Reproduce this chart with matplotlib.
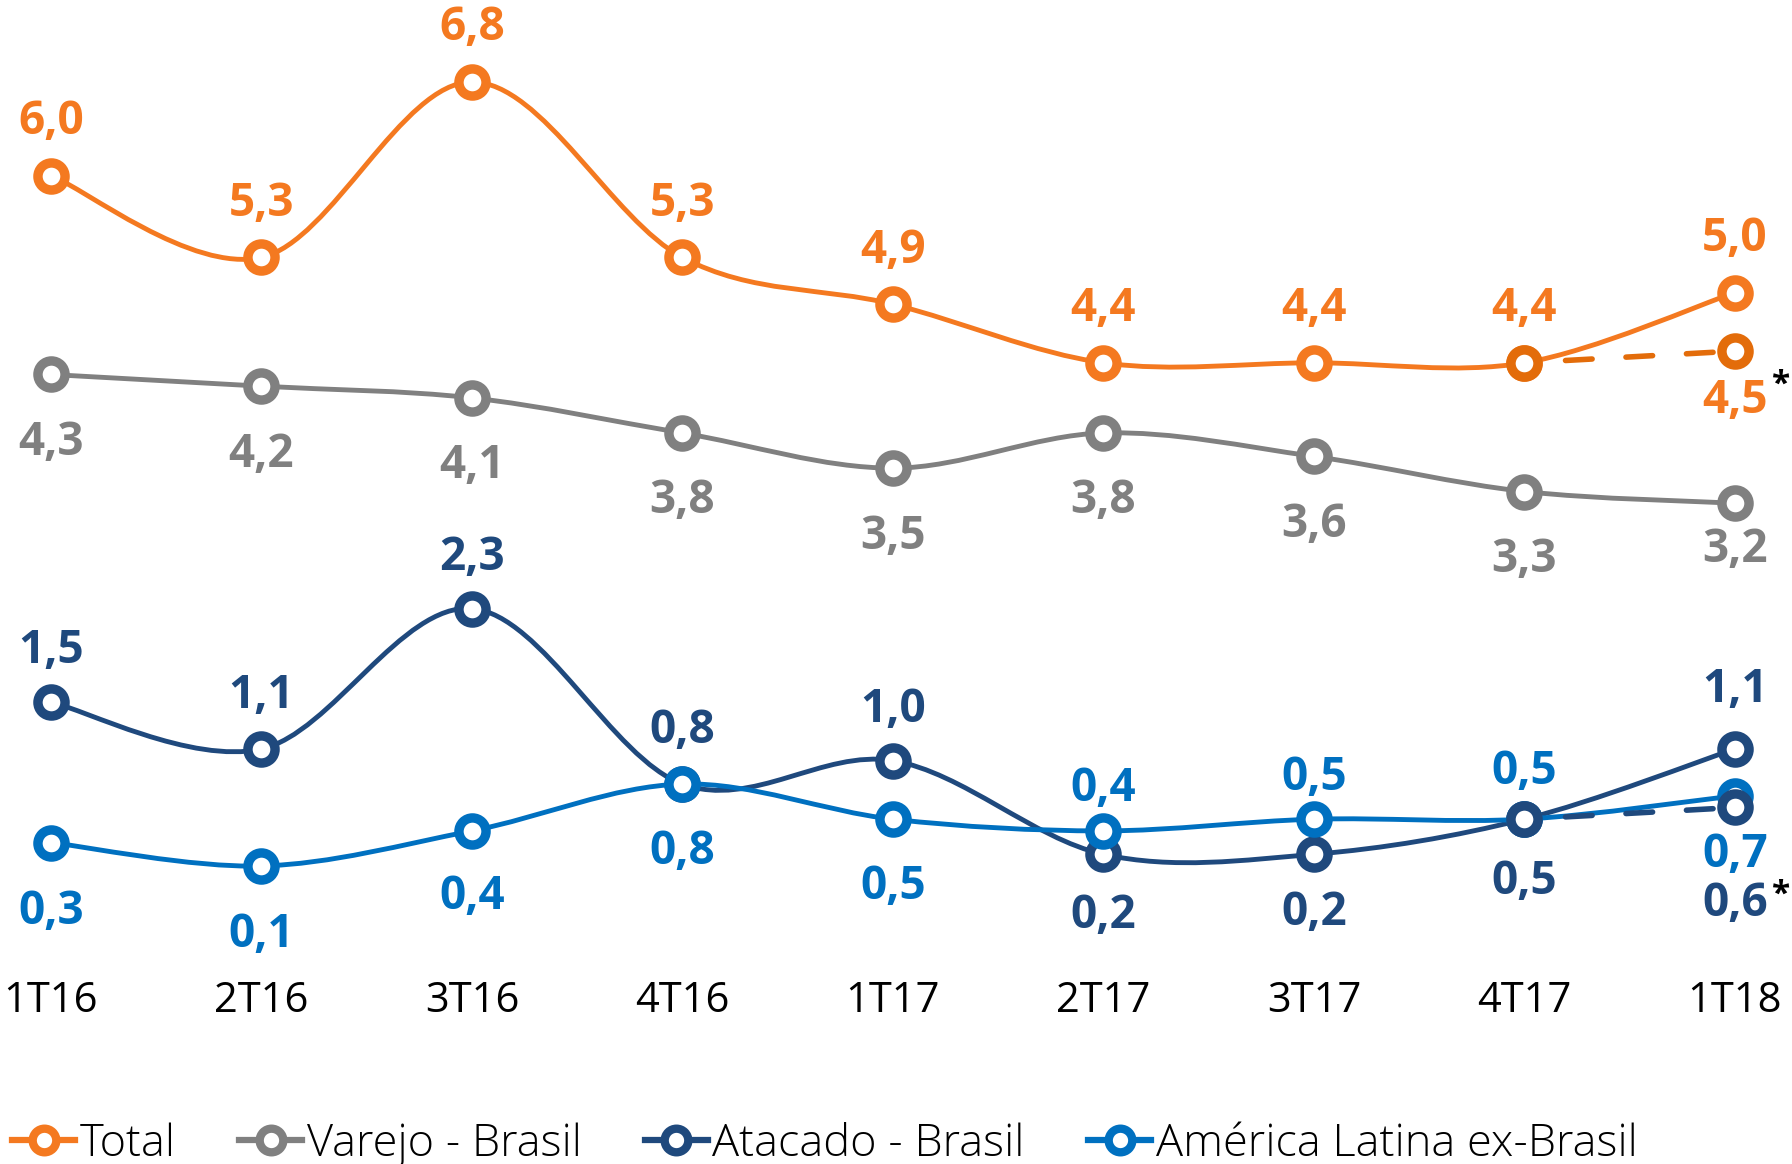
import matplotlib
matplotlib.use('Agg')
import matplotlib.pyplot as plt
from matplotlib.path import Path
from matplotlib.patches import PathPatch
from matplotlib.lines import Line2D

# data
quarters = ['1T16', '2T16', '3T16', '4T16', '1T17', '2T17', '3T17', '4T17', '1T18']
total = [6.0, 5.3, 6.8, 5.3, 4.9, 4.4, 4.4, 4.4, 5.0]
varejo = [4.3, 4.2, 4.1, 3.8, 3.5, 3.8, 3.6, 3.3, 3.2]
atacado = [1.5, 1.1, 2.3, 0.8, 1.0, 0.2, 0.2, 0.5, 1.1]
america = [0.3, 0.1, 0.4, 0.8, 0.5, 0.4, 0.5, 0.5, 0.7]
# adjusted values (dashed, 4T17 -> 1T18*)
total_adj = [4.4, 4.5]
atacado_adj = [0.5, 0.6]

c_total = '#F47920'
c_total_adj = '#E36C0A'
c_varejo = '#808080'
c_atacado = '#1F497D'
c_america = '#0070C0'

plt.rcParams['font.family'] = ['Open Sans', 'DejaVu Sans']

LW = 3.5
MS = 19.5
MEW = 6.8
LABEL_FS = 33


def smooth_path(xs, ys, k=1.0):
    """Cubic bezier path through the points (Catmull-Rom style control points)."""
    n = len(xs)
    verts = [(xs[0], ys[0])]
    codes = [Path.MOVETO]
    for i in range(n - 1):
        i0 = max(i - 1, 0)
        i3 = min(i + 2, n - 1)
        c1 = (xs[i] + (xs[i + 1] - xs[i0]) / 6 * k,
              ys[i] + (ys[i + 1] - ys[i0]) / 6 * k)
        c2 = (xs[i + 1] - (xs[i3] - xs[i]) / 6 * k,
              ys[i + 1] - (ys[i3] - ys[i]) / 6 * k)
        verts += [c1, c2, (xs[i + 1], ys[i + 1])]
        codes += [Path.CURVE4] * 3
    return Path(verts, codes)


def fmt(v):
    return ('%.1f' % v).replace('.', ',')


fig = plt.figure(figsize=(17.92, 11.64), dpi=100)
ax = fig.add_axes([0, 1 - 965 / 1164, 1, 965 / 1164])
ax.set_xlim(-0.242, 8.271)
ax.set_ylim(-0.746, 7.50)
for s in ax.spines.values():
    s.set_visible(False)
ax.set_yticks([])
ax.set_xticks(range(len(quarters)), quarters)
ax.tick_params(axis='x', length=0, pad=11, labelsize=30, labelcolor='black')

x = list(range(len(quarters)))


def draw_series(vals, color, offsets, z):
    ax.add_patch(PathPatch(smooth_path(x, vals), fill=False, edgecolor=color,
                           lw=LW, zorder=z, capstyle='round'))
    ax.plot(x, vals, ls='none', marker='o', ms=MS, mew=MEW, mfc='white',
            mec=color, zorder=z + 0.5)
    for xi, v, off in zip(x, vals, offsets):
        ax.annotate(fmt(v), (xi, v), xytext=(0, off), textcoords='offset pixels',
                    ha='center', va='center', fontsize=LABEL_FS, fontweight='bold',
                    color=color, zorder=10)


draw_series(total, c_total, [54] * 9, 2)
draw_series(varejo, c_varejo, [-68, -68, -68, -68, -68, -68, -68, -68, -46], 2)
draw_series(atacado, c_atacado, [52, 53, 51, 54, 51, -61, -58, -62, 59], 3)
draw_series(america, c_america, [-69, -69, -66, -67, -67, 42, 42, 48, -59], 4)

# dashed adjusted segments
x_adj = x[-2:]
for vals, color, lab_color, off, star_off in [
        (total_adj, c_total_adj, c_total, -49, -34),
        (atacado_adj, c_atacado, c_atacado, -96, -88)]:
    ax.plot(x_adj, vals, color=color, lw=LW + 0.5, ls=(3.5, (4.8, 6.1)),
            dash_capstyle='round', marker='o', ms=MS, mew=MEW, mfc='white',
            mec=color, zorder=6)
    ax.annotate(fmt(vals[-1]), (x_adj[-1], vals[-1]), xytext=(0, off),
                textcoords='offset pixels', ha='center', va='center',
                fontsize=LABEL_FS, fontweight='bold', color=lab_color, zorder=10)
    ax.annotate('*', (x_adj[-1], vals[-1]), xytext=(46, star_off),
                textcoords='offset pixels', ha='center', va='center',
                fontsize=24, fontweight='bold', color='black', zorder=10)

# legend
handles = [Line2D([], [], color=c, lw=4.5, marker='o', ms=17, mew=6, mfc='white', mec=c)
           for c in [c_total, c_varejo, c_atacado, c_america]]
labels = ['Total', 'Varejo - Brasil', 'Atacado - Brasil', 'América Latina ex-Brasil']
leg = fig.legend(handles, labels, loc='center left', ncol=4,
                 bbox_to_anchor=(12 / 1792, 1 - 1145 / 1164), frameon=False,
                 borderpad=0, borderaxespad=0, handlelength=1.4,
                 handletextpad=0.1, columnspacing=1.4,
                 prop={'size': 32.5, 'weight': 'light'})

fig.savefig('out.png', dpi=100)
